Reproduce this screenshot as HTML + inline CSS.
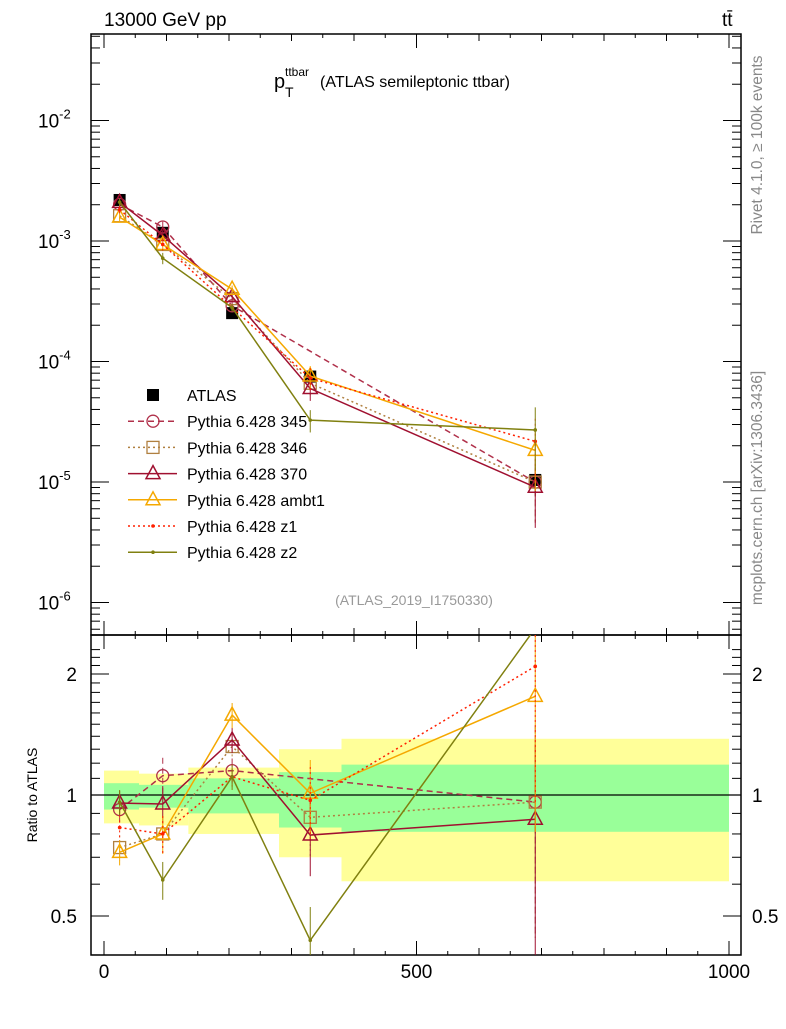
<!DOCTYPE html>
<html><head><meta charset="utf-8"><style>
body{margin:0;background:#fff}
svg text{font-family:"Liberation Sans",sans-serif}
</style></head><body>
<svg id="c" width="786" height="1024" xmlns="http://www.w3.org/2000/svg">
<g id="bands"></g>
<g id="axes"></g>
<g id="series"></g>
<g id="legend"></g>
<text x="104" y="26" font-size="19">13000 GeV pp</text>
<text x="722" y="26" font-size="19">tt̄</text>
<g>
<text x="274" y="88" font-size="20">p</text>
<text x="285" y="76" font-size="12">ttbar</text>
<text x="285" y="97" font-size="14">T</text>
<text x="320" y="87" font-size="16">(ATLAS semileptonic ttbar)</text>
</g>
<text x="414" y="605" font-size="14" fill="#999" text-anchor="middle">(ATLAS_2019_I1750330)</text>
<text transform="translate(762,145) rotate(-90)" font-size="15.5" fill="#888" text-anchor="middle">Rivet 4.1.0, ≥ 100k events</text>
<text transform="translate(762,488) rotate(-90)" font-size="15.5" fill="#888" text-anchor="middle">mcplots.cern.ch [arXiv:1306.3436]</text>
<text transform="translate(37,795) rotate(-90)" font-size="14" text-anchor="middle">Ratio to ATLAS</text>
</svg>
<script>
const xCenters=[25,94,205,330,690];
const binEdges=[0,56,135,280,380,1000];
const atlas=[2.19e-3,1.17e-3,2.52e-4,7.5e-5,1.04e-5];
const bandGreen=[[0.92,1.07],[0.93,1.06],[0.90,1.10],[0.83,1.14],[0.81,1.19]];
const bandYellow=[[0.85,1.15],[0.84,1.13],[0.80,1.17],[0.70,1.30],[0.61,1.38]];
const r345=[0.92,1.117,1.15,null,0.96];
const r346=[0.74,0.80,1.32,0.88,0.96];
const r370=[0.955,0.95,1.37,0.795,0.87];
const rAmbt1=[0.72,0.80,1.58,1.01,1.76];
const rZ1=[0.83,0.80,1.11,0.97,2.09];
const rZ2=[0.96,0.615,1.11,0.435,2.6];
const relErr=[0.12,0.18,0.12,0.35,0.9];
const mainYTicks=[-2,-3,-4,-5,-6];
const ratioTicks=[0.5,1,2];
const xTickLabels=[0,500,1000];

const NS="http://www.w3.org/2000/svg";
const L=91,R=741,T=34,MB=635,B=955;
const X=v=>104+v*0.625;
const Ym=v=>241-(Math.log10(v)+3)*120.5;
const Yr=v=>795-Math.log2(v)*121;
function el(p,t,a){const e=document.createElementNS(NS,t);for(const k in a)e.setAttribute(k,a[k]);p.appendChild(e);return e;}
const bands=document.getElementById('bands'),axes=document.getElementById('axes'),ser=document.getElementById('series'),leg=document.getElementById('legend');

for(let i=0;i<5;i++){
 const x0=X(binEdges[i]),x1=X(binEdges[i+1]);
 let r=el(bands,'rect',{x:x0,y:Yr(bandYellow[i][1]),width:x1-x0,height:Yr(bandYellow[i][0])-Yr(bandYellow[i][1]),fill:'#ffff99'});
 
 
 r=el(bands,'rect',{x:x0,y:Yr(bandGreen[i][1]),width:x1-x0,height:Yr(bandGreen[i][0])-Yr(bandGreen[i][1]),fill:'#99ff99'});
 
 
}
el(axes,'rect',{x:L,y:T,width:R-L,height:MB-T,fill:'none',stroke:'#000','stroke-width':1.5});
el(axes,'rect',{x:L,y:MB,width:R-L,height:B-MB,fill:'none',stroke:'#000','stroke-width':1.5});
el(axes,'line',{x1:L,x2:R,y1:Yr(1),y2:Yr(1),stroke:'#000','stroke-width':1.2});
for(let v=0;v<=1020;v+=50){const x=X(v);if(x>R)break;const len=v%500==0?14:(v%100==0?7:4);
 for(const [y0,d] of [[MB,-1],[B,-1],[T,1],[MB,1]]) el(axes,'line',{x1:x,x2:x,y1:y0,y2:y0+d*len,stroke:'#000'});}
for(const v of xTickLabels){const t=el(axes,'text',{x:X(v),y:978,'font-size':19,'text-anchor':'middle'});t.textContent=v;
 
 }
for(let d=-7;d<=-1;d++){for(let m=1;m<10;m++){const y=Ym(m*Math.pow(10,d));if(y<T||y>MB)continue;const len=m==1?18:9;
 el(axes,'line',{x1:L,x2:L+len,y1:y,y2:y,stroke:'#000'});el(axes,'line',{x1:R,x2:R-len,y1:y,y2:y,stroke:'#000'});}}
for(const d of mainYTicks){const t=el(axes,'text',{x:38,y:Ym(Math.pow(10,d))+7,'font-size':19});
 t.innerHTML='10<tspan font-size="13" dy="-9">'+d+'</tspan>';
 
 }
for(let v=0.4;v<=2.4;v+=0.1){const y=Yr(v);if(y<MB||y>B)continue;const maj=Math.abs(v-0.5)<1e-6||Math.abs(v-1)<1e-6||Math.abs(v-2)<1e-6;const len=maj?18:9;
 el(axes,'line',{x1:L,x2:L+len,y1:y,y2:y,stroke:'#000'});el(axes,'line',{x1:R,x2:R-len,y1:y,y2:y,stroke:'#000'});}
for(const v of ratioTicks){for(const x of [77,752]){const t=el(axes,'text',{x:x,y:Yr(v)+7,'font-size':19,'text-anchor':x<100?'end':'start'});t.textContent=v;
 
 }}

const defs=[
 {n:'345',r:r345,c:'#b0304a',dash:'6,4',m:'circle'},
 {n:'346',r:r346,c:'#b08040',dash:'2,3',m:'square'},
 {n:'370',r:r370,c:'#a01030',dash:'',m:'tri'},
 {n:'ambt1',r:rAmbt1,c:'#f5a800',dash:'',m:'tri'},
 {n:'z1',r:rZ1,c:'#ff2000',dash:'2,3',m:'dot'},
 {n:'z2',r:rZ2,c:'#808010',dash:'',m:'dot'}];
function marker(g,m,x,y,c){
 const s=6;
 if(m=='circle')return el(g,'circle',{cx:x,cy:y,r:s,fill:'none',stroke:c,'stroke-width':1.3});
 if(m=='square')return el(g,'rect',{x:x-s,y:y-s,width:2*s,height:2*s,fill:'none',stroke:c,'stroke-width':1.3});
 if(m=='tri')return el(g,'polygon',{points:`${x},${y-s-2} ${x-s-1},${y+s-1} ${x+s+1},${y+s-1}`,fill:'none',stroke:c,'stroke-width':1.5});
 return el(g,'circle',{cx:x,cy:y,r:1.8,fill:c});
}
function clipY(y,top,bot){return Math.max(top,Math.min(bot,y));}
const ga=el(ser,'g',{});


atlas.forEach((v,i)=>{const x=X(xCenters[i]),y=Ym(v);
 el(ga,'line',{x1:x,x2:x,y1:Ym(v*(1+relErr[i]*0.3)),y2:Ym(v*(1-relErr[i]*0.3)),stroke:'#000'});
 const p=el(ga,'rect',{x:x-6,y:y-6,width:12,height:12,fill:'#000'});
 
 });
defs.forEach(d=>{
 const g=el(ser,'g',{});
 
 
 const mp=[],rp=[];
 d.r.forEach((r,i)=>{if(r==null)return;mp.push([X(xCenters[i]),Ym(r*atlas[i]),r,i]);rp.push([X(xCenters[i]),Yr(r),r,i]);});
 el(g,'polyline',{points:mp.map(p=>p[0]+','+p[1]).join(' '),fill:'none',stroke:d.c,'stroke-width':1.5,'stroke-dasharray':d.dash});
 const cp=el(g,'clipPath',{id:'cl'+d.n});el(cp,'rect',{x:L,y:MB,width:R-L,height:B-MB});
 el(g,'polyline',{points:rp.map(p=>p[0]+','+p[1]).join(' '),fill:'none',stroke:d.c,'stroke-width':1.5,'stroke-dasharray':d.dash,'clip-path':'url(#cl'+d.n+')'});
 mp.forEach(p=>{const v=p[2]*atlas[p[3]],e=relErr[p[3]]*0.6;
  el(g,'line',{x1:p[0],x2:p[0],y1:Ym(v*(1+e)),y2:Ym(Math.max(v*(1-e),1e-7)),stroke:d.c,'stroke-dasharray':d.dash});
  const mk=marker(g,d.m,p[0],p[1],d.c);
  
  });
 rp.forEach(p=>{const e=relErr[p[3]]*0.6;if(p[1]<MB)return;
  el(g,'line',{x1:p[0],x2:p[0],y1:clipY(Yr(p[2]*(1+e)),MB,B),y2:clipY(Yr(Math.max(p[2]*(1-e),0.01)),MB,B),stroke:d.c,'stroke-dasharray':d.dash});
  const mk=marker(g,d.m,p[0],p[1],d.c);
  
  });
});
const rows=[['ATLAS',null]].concat(defs.map(d=>['Pythia 6.428 '+d.n,d]));
rows.forEach((r,i)=>{const y=395+i*26.2;const g=el(leg,'g',{});
 
 
 if(!r[1])el(g,'rect',{x:147,y:y-6,width:12,height:12,fill:'#000'});
 else{const d=r[1];el(g,'line',{x1:128,x2:177,y1:y,y2:y,stroke:d.c,'stroke-width':1.5,'stroke-dasharray':d.dash});marker(g,d.m,153,y,d.c);}
 const t=el(g,'text',{x:187,y:y+6,'font-size':16});t.textContent=r[0];});
</script>
</body></html>
